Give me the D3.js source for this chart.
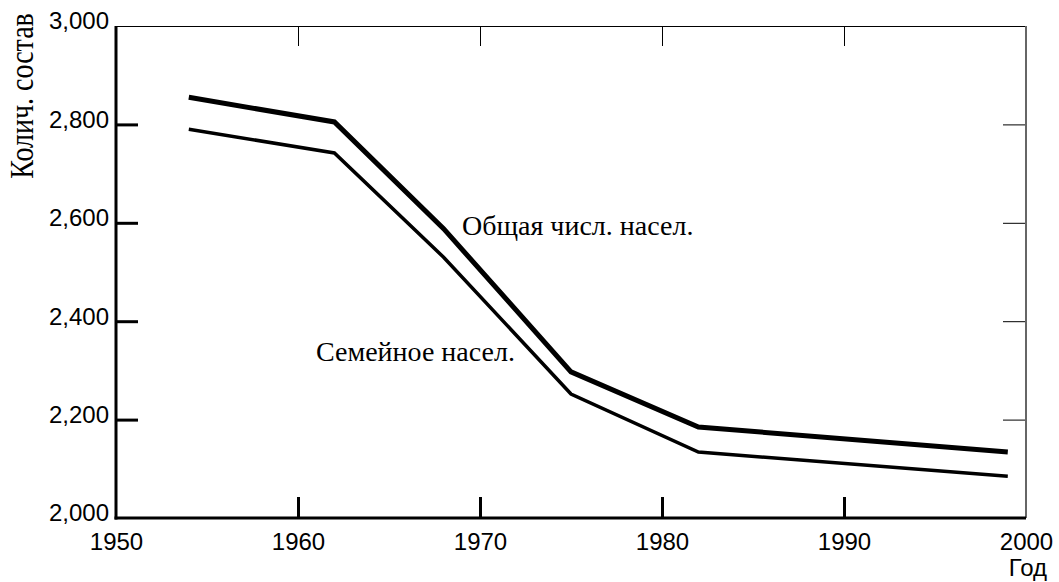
<!DOCTYPE html>
<html>
<head>
<meta charset="utf-8">
<script src="https://cdn.jsdelivr.net/npm/d3@7/dist/d3.min.js"></script>
<style>
  html, body { margin: 0; padding: 0; background: #fff; }
  svg { display: block; }
</style>
</head>
<body>
<svg id="chart" width="1059" height="582"></svg>
<script>
const years = [1954, 1962, 1968, 1975, 1982, 1999];
const totalPop = [2855, 2805, 2588, 2297, 2185, 2134];
const familyPop = [2790, 2742, 2530, 2252, 2134, 2085];
const xTicks = [1950, 1960, 1970, 1980, 1990, 2000];
const yTicks = [2000, 2200, 2400, 2600, 2800, 3000];
const seriesLabels = ["Общая числ. насел.", "Семейное насел."];
const yTitle = "Колич. состав";
const xTitle = "Год";

const svg = d3.select("#chart");
const L = 116, R = 1026, T = 26, B = 518;
const x = d3.scaleLinear().domain([1950, 2000]).range([L, R]);
const y = d3.scaleLinear().domain([2000, 3000]).range([B, T]);

const sans = "'Liberation Sans', Arial, sans-serif";
const serif = "'Liberation Serif', 'Times New Roman', serif";

// top border and top ticks
const topAxis = svg.append("g").attr("transform", `translate(0,${T})`)
  .call(d3.axisTop(x).tickValues(xTicks).tickSize(-20).tickFormat(""));
topAxis.select(".domain").remove();
topAxis.selectAll(".tick").filter(d => d === 1950 || d === 2000).remove();
topAxis.selectAll(".tick line").attr("stroke", "#000").attr("stroke-width", 1);
svg.append("line").attr("x1", L).attr("x2", R).attr("y1", T + 0.5).attr("y2", T + 0.5)
  .attr("stroke", "#000").attr("stroke-width", 1);

// right border and right ticks
const rightAxis = svg.append("g").attr("transform", `translate(${R},0)`)
  .call(d3.axisRight(y).tickValues(yTicks).tickSize(-23).tickFormat(""));
rightAxis.select(".domain").remove();
rightAxis.selectAll(".tick").filter(d => d === 2000 || d === 3000).remove();
rightAxis.selectAll(".tick line").attr("stroke", "#000").attr("stroke-width", 1);
svg.append("line").attr("x1", R).attr("x2", R).attr("y1", T).attr("y2", B)
  .attr("stroke", "#666").attr("stroke-width", 2);

// left axis
const leftAxis = svg.append("g").attr("transform", `translate(${L},0)`)
  .call(d3.axisLeft(y).tickValues(yTicks).tickSize(-22).tickPadding(7).tickFormat(d3.format(",")));
leftAxis.select(".domain").remove();
leftAxis.selectAll(".tick line").attr("stroke", "#000").attr("stroke-width", 3)
  .filter(d => d === 2000 || d === 3000).remove();
leftAxis.selectAll(".tick text").attr("fill", "#000").attr("dy", "0.12em")
  .style("font-family", sans).style("font-size", "24px");
svg.append("line").attr("x1", L).attr("x2", L).attr("y1", T).attr("y2", B + 1.5)
  .attr("stroke", "#000").attr("stroke-width", 3);

// bottom axis
const bottomAxis = svg.append("g").attr("transform", `translate(0,${B})`)
  .call(d3.axisBottom(x).tickValues(xTicks).tickSize(-21).tickPadding(15).tickFormat(d3.format("d")));
bottomAxis.select(".domain").remove();
bottomAxis.selectAll(".tick line").attr("stroke", "#000").attr("stroke-width", 3)
  .filter(d => d === 1950 || d === 2000).remove();
bottomAxis.selectAll(".tick text").attr("fill", "#000")
  .style("font-family", sans).style("font-size", "24px");
svg.append("line").attr("x1", L - 1.5).attr("x2", R).attr("y1", B).attr("y2", B)
  .attr("stroke", "#000").attr("stroke-width", 3);

// lines
const line = d3.line().x(d => x(d[0])).y(d => y(d[1]));
svg.append("path").datum(years.map((yr, i) => [yr, familyPop[i]]))
  .attr("d", line).attr("fill", "none").attr("stroke", "#000").attr("stroke-width", 3.5);
svg.append("path").datum(years.map((yr, i) => [yr, totalPop[i]]))
  .attr("d", line).attr("fill", "none").attr("stroke", "#000").attr("stroke-width", 5);

// series labels
svg.append("text").attr("x", 462).attr("y", 235).text(seriesLabels[0])
  .style("font-family", serif).style("font-size", "28px").attr("fill", "#000");
svg.append("text").attr("x", 316).attr("y", 361).text(seriesLabels[1])
  .style("font-family", serif).style("font-size", "28px").attr("fill", "#000");

// axis titles
svg.append("text").attr("transform", "translate(33,96) rotate(-90) scale(1,1.2)")
  .attr("text-anchor", "middle").text(yTitle)
  .style("font-family", serif).style("font-size", "28px").attr("fill", "#000");
svg.append("text").attr("x", 1047).attr("y", 576).attr("text-anchor", "end").text(xTitle)
  .style("font-family", sans).style("font-size", "24px").attr("fill", "#000");
</script>
</body>
</html>
